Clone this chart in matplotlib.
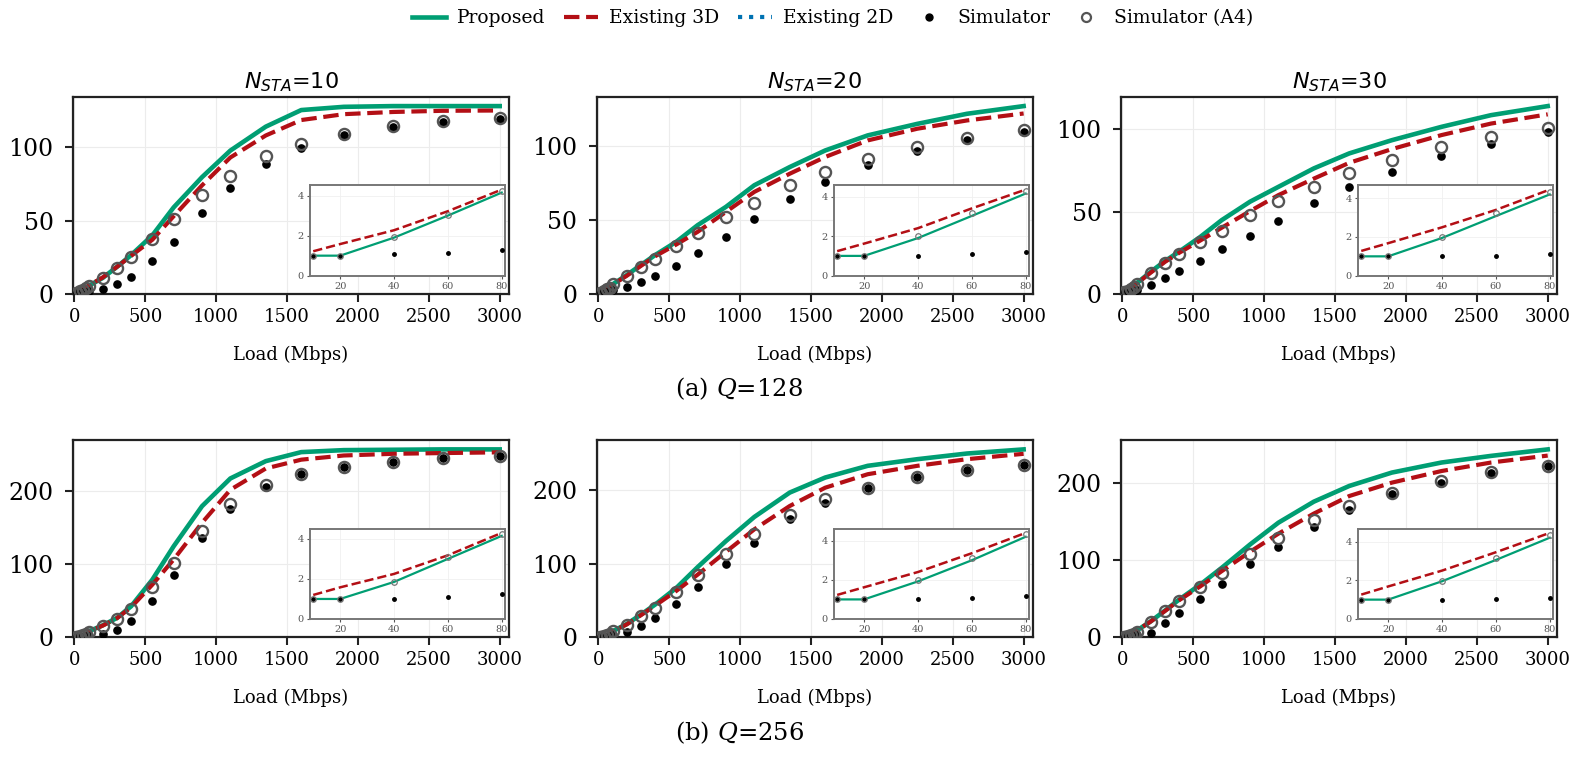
import matplotlib
matplotlib.use("Agg")
import matplotlib.pyplot as plt
from matplotlib.lines import Line2D

plt.rcParams['font.family'] = ['DejaVu Serif']
plt.rcParams['mathtext.fontset'] = 'dejavusans'

# ---------------- data ----------------
loads = [10, 20, 40, 60, 80, 100, 200, 300, 400, 550, 700, 900, 1100, 1350,
         1600, 1900, 2250, 2600, 3000]

# Q = 128
q128_n10_proposed = [1.0, 1.0, 1.9, 3.0, 4.15, 5.5, 11, 18.5, 26.5, 40, 59, 79.6, 97.7, 114, 125.3, 127.5, 128, 128, 128]
q128_n10_exist3d = [1.22, 1.58, 2.27, 3.22, 4.3, 5.8, 11.3, 18.5, 26, 37, 53, 74, 93, 108, 118.5, 122.5, 124, 124.8, 125]
q128_n10_sim = [1.0, 1.0, 1.07, 1.14, 1.3, 2.0, 3.2, 6.6, 11.8, 22.4, 35.3, 55.2, 72.4, 88.7, 99.5, 108, 113.6, 117, 119.3]
q128_n10_a4 = [1.0, 1.0, 1.95, 3.05, 4.25, 5.2, 11.1, 17.9, 25.3, 37.8, 50.9, 67.2, 80.3, 93.7, 102.3, 109, 114.3, 117.6, 119.8]

q128_n20_proposed = [1.0, 1.0, 1.9, 3.02, 4.15, 6.5, 12.8, 19.6, 26.3, 35.3, 46.5, 58.9, 73.5, 85.8, 97, 107.2, 115, 121.8, 127]
q128_n20_exist3d = [1.24, 1.62, 2.4, 3.4, 4.35, 6.3, 12.3, 19, 25.5, 33.5, 42, 55.5, 69, 81.3, 92.6, 103.8, 111.7, 117.3, 122]
q128_n20_sim = [1.0, 1.0, 1.01, 1.08, 1.2, 2.5, 5, 8.3, 11.9, 18.9, 27.4, 38.7, 50.6, 64.5, 75.7, 87, 96.6, 103.8, 109.5]
q128_n20_a4 = [1.0, 1.0, 1.99, 3.16, 4.3, 6.5, 12.1, 18, 24, 32.4, 41.3, 52.1, 61.8, 73.5, 82.5, 91.5, 99.3, 105.6, 110.6]

q128_n30_proposed = [1.0, 1.0, 1.95, 3.08, 4.2, 6.5, 13.5, 20, 25.7, 34.7, 44.8, 56, 65, 76.2, 85.3, 93.3, 101.4, 108.5, 114]
q128_n30_exist3d = [1.28, 1.68, 2.5, 3.4, 4.45, 6.3, 13, 19.5, 25, 32.5, 40.2, 50.3, 60, 70, 79.6, 87.9, 96.4, 103.4, 109]
q128_n30_sim = [1.0, 1.0, 1.03, 1.03, 1.1, 2.5, 5.5, 9.9, 13.9, 20, 27.1, 35.4, 44, 55, 65, 74.1, 83.6, 91.3, 98.5]
q128_n30_a4 = [1.0, 1.0, 2.02, 3.22, 4.35, 6.1, 12.7, 19, 24.2, 31.7, 38.4, 47.7, 56.4, 65, 73.5, 81.2, 88.9, 95.4, 100.5]

# Q = 256
q256_n10_proposed = [1.0, 1.0, 1.85, 3.0, 4.15, 8, 16.4, 26.4, 42.3, 78.6, 124, 178.6, 216.4, 240, 252.3, 255, 255.5, 256, 256]
q256_n10_exist3d = [1.2, 1.58, 2.25, 3.18, 4.3, 7.8, 16, 26, 41, 71.8, 106, 156, 201, 230, 242, 247.7, 250, 251, 252]
q256_n10_sim = [1.0, 1.0, 1.0, 1.1, 1.25, 2.0, 4.0, 10.5, 22.7, 49, 85.5, 135.5, 175, 204.5, 222, 232, 239, 244.5, 247]
q256_n10_a4 = [1.0, 1.0, 1.87, 3.08, 4.25, 7.3, 15, 25, 38.6, 68, 101.4, 145.5, 181, 207, 222, 232, 239, 244.5, 247]

q256_n20_proposed = [1.0, 1.0, 1.92, 3.0, 4.2, 8.2, 18, 30.8, 44.4, 67, 95.2, 130.6, 163.3, 196.4, 216.8, 232.7, 241.7, 249.4, 255]
q256_n20_exist3d = [1.23, 1.62, 2.4, 3.36, 4.4, 8, 17.5, 30, 43, 63, 85, 116, 146.5, 178.2, 203, 221.3, 232.7, 241.7, 249]
q256_n20_sim = [1.0, 1.0, 1.0, 1.06, 1.15, 2.5, 7.3, 15.9, 26.3, 45.4, 68, 99, 128.3, 160, 182.8, 203, 217.7, 226.8, 234]
q256_n20_a4 = [1.0, 1.0, 1.97, 3.13, 4.35, 8.2, 17.2, 28.6, 40, 61.7, 84, 113.4, 139.7, 166, 187.3, 203.2, 217.7, 226.8, 234]

q256_n30_proposed = [1.0, 1.0, 1.95, 3.05, 4.2, 8.6, 20.7, 34.6, 48.8, 68.3, 89.8, 120, 148.2, 175.4, 195.7, 213, 226, 234.6, 243]
q256_n30_exist3d = [1.26, 1.68, 2.5, 3.45, 4.45, 8.5, 20.5, 34, 48, 66, 85.5, 110.6, 134, 160, 182.7, 200, 215, 226, 235]
q256_n30_sim = [1.0, 1.0, 1.0, 1.03, 1.1, 3.5, 5.6, 18.6, 31.5, 49.7, 69.5, 94.2, 117, 142.5, 164.6, 184.9, 200, 213, 221]
q256_n30_a4 = [1.0, 1.0, 1.98, 3.14, 4.35, 6.9, 19.4, 33.7, 46.7, 64.8, 83.4, 108, 128.7, 151.2, 169.8, 187, 202.2, 214.3, 222]

n_sta = [10, 20, 30]
q_values = [128, 256]
row_captions = ["(a) $Q$=128", "(b) $Q$=256"]
legend_labels = ["Proposed", "Existing 3D", "Existing 2D", "Simulator", "Simulator (A4)"]

panels = [
    [(q128_n10_proposed, q128_n10_exist3d, q128_n10_sim, q128_n10_a4),
     (q128_n20_proposed, q128_n20_exist3d, q128_n20_sim, q128_n20_a4),
     (q128_n30_proposed, q128_n30_exist3d, q128_n30_sim, q128_n30_a4)],
    [(q256_n10_proposed, q256_n10_exist3d, q256_n10_sim, q256_n10_a4),
     (q256_n20_proposed, q256_n20_exist3d, q256_n20_sim, q256_n20_a4),
     (q256_n30_proposed, q256_n30_exist3d, q256_n30_sim, q256_n30_a4)],
]

# ---------------- style ----------------
GREEN = '#009e73'
RED = '#b30f15'
BLUE = '#0072b2'
GREY = '#555555'

fig = plt.figure(figsize=(15.8, 7.59), dpi=100)

col_left = [0.0462, 0.3778, 0.7095]
ax_w = 0.2759
row_bottom = [0.6126, 0.1603]
ax_h = 0.260

n_inset = 5
for r in range(2):
    for c in range(3):
        prop, e3d, sim, a4 = panels[r][c]
        ax = fig.add_axes([col_left[c], row_bottom[r], ax_w, ax_h])
        ax.grid(True, color='#ececec', lw=0.8, zorder=0)
        ax.set_axisbelow(True)
        ax.plot(loads, prop, color=GREEN, lw=3.3, zorder=3)
        ax.plot(loads, e3d, color=RED, lw=3.0, ls='--', zorder=3)
        ax.plot(loads, sim, 'o', color='black', ms=5.2, zorder=4)
        ax.plot(loads, a4, 'o', mfc='none', mec=GREY, mew=1.7, ms=8.0, zorder=5)
        ax.set_xlim(-10, 3065)
        ax.set_ylim(0, max(prop) * 1.05)
        ax.set_xticks([0, 500, 1000, 1500, 2000, 2500, 3000])
        if r == 0:
            ax.set_yticks([0, 50, 100])
        else:
            ax.set_yticks([0, 100, 200])
        ax.tick_params(length=6, width=1.5, color='#222222')
        ax.tick_params(axis='x', labelsize=13, pad=4)
        ax.tick_params(axis='y', labelsize=17, pad=8)
        for s in ax.spines.values():
            s.set_linewidth(1.6)
            s.set_color('#222222')
        ax.set_xlabel("Load (Mbps)", fontsize=13, labelpad=14)
        if r == 0:
            ax.set_title("$N_{STA}$=%d" % n_sta[c], fontsize=16,
                         family='DejaVu Sans', pad=6)

        # inset
        ins = ax.inset_axes([0.544, 0.093, 0.448, 0.458])
        ins.set_facecolor('white')
        ins.grid(True, color='#f0f0f0', lw=0.6)
        ins.set_axisbelow(True)
        ins.plot(loads[:n_inset], prop[:n_inset], color=GREEN, lw=1.6, zorder=3)
        ins.plot(loads[:n_inset], e3d[:n_inset], color=RED, lw=1.8, ls='--', zorder=3)
        ins.plot(loads[:n_inset], sim[:n_inset], 'o', color='black', ms=2.5, zorder=4)
        ins.plot(loads[:n_inset], a4[:n_inset], 'o', mfc='none', mec='#777777',
                 mew=0.9, ms=4, zorder=5)
        ymax_in = max(max(prop[:n_inset]), max(e3d[:n_inset]), max(a4[:n_inset]))
        ins.set_xlim(8.85, 81.4)
        ins.set_ylim(0, ymax_in * 1.05)
        ins.set_xticks([20, 40, 60, 80])
        ins.set_yticks([0, 2, 4])
        ins.tick_params(labelsize=7, length=2.5, width=0.8, colors='#555555', pad=2)
        for s in ins.spines.values():
            s.set_linewidth(1.4)
            s.set_color('#777777')

for r in range(2):
    y = 0.488 if r == 0 else 0.034
    fig.text(0.468, y, row_captions[r], ha='center', va='center', fontsize=17.5,
             math_fontfamily='dejavuserif')

handles = [
    Line2D([], [], color=GREEN, lw=3.3),
    Line2D([], [], color=RED, lw=3.0, ls='--'),
    Line2D([], [], color=BLUE, lw=3.0, ls=':'),
    Line2D([], [], ls='none', marker='o', color='black', ms=5),
    Line2D([], [], ls='none', marker='o', mfc='none', mec=GREY, mew=1.6, ms=6.5),
]
fig.legend(handles, legend_labels, loc='center', bbox_to_anchor=(0.527, 0.976),
           ncol=5, frameon=False, fontsize=13.5, handlelength=1.8,
           columnspacing=1.0, handletextpad=0.6)

fig.savefig("out.png", dpi=100)
